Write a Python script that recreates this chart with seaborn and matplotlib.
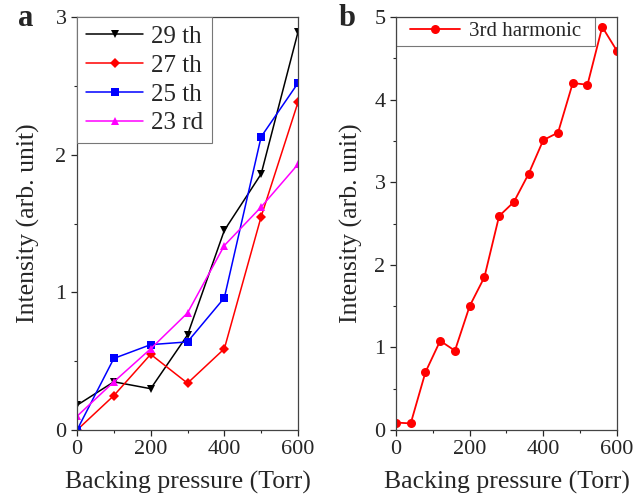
import numpy as np
import pandas as pd
import matplotlib.pyplot as plt
from matplotlib.ticker import MultipleLocator
import seaborn as sns

# Data
pressure_a = [0, 100, 200, 300, 400, 500, 600]
h29 = [0.18, 0.35, 0.30, 0.69, 1.45, 1.86, 2.89]
h27 = [0.00, 0.25, 0.55, 0.34, 0.59, 1.55, 2.38]
h25 = [0.00, 0.52, 0.62, 0.64, 0.96, 2.13, 2.52]
h23 = [0.10, 0.35, 0.59, 0.85, 1.34, 1.62, 1.93]
orders = ["29 th", "27 th", "25 th", "23 rd"]

pressure_b = [0, 40, 80, 120, 160, 200, 240, 280, 320, 360, 400, 440, 480, 520, 560, 600]
h3 = [0.09, 0.08, 0.70, 1.08, 0.96, 1.50, 1.85, 2.59, 2.76, 3.10,
      3.51, 3.60, 4.20, 4.18, 4.88, 4.59]

# Style
sns.set_style("ticks")
plt.rcParams["font.family"] = ["Liberation Serif", "DejaVu Serif"]
plt.rcParams["xtick.direction"] = "out"
plt.rcParams["ytick.direction"] = "out"

df_a = pd.DataFrame({
    "pressure": pressure_a * 4,
    "intensity": h29 + h27 + h25 + h23,
    "order": np.repeat(orders, len(pressure_a)),
})
df_b = pd.DataFrame({"pressure": pressure_b, "intensity": h3})

colors = {"29 th": "black", "27 th": "red", "25 th": "blue", "23 rd": "magenta"}
markers = {"29 th": "v", "27 th": "D", "25 th": "s", "23 rd": "^"}

fig = plt.figure(figsize=(6.44, 4.97), dpi=100)
ax1 = fig.add_axes([0.1196, 0.1348, 0.3431, 0.831])
ax2 = fig.add_axes([0.6149, 0.1348, 0.3431, 0.831])

# Panel a
sns.lineplot(
    data=df_a, x="pressure", y="intensity",
    hue="order", style="order", hue_order=orders, style_order=orders,
    palette=colors, markers=markers, dashes=False,
    linewidth=1.1, markersize=5.5, markeredgewidth=0,
    ax=ax1,
)
ax1.set_xlim(0, 600)
ax1.set_ylim(0, 3)
ax1.xaxis.set_major_locator(MultipleLocator(200))
ax1.xaxis.set_minor_locator(MultipleLocator(100))
ax1.yaxis.set_major_locator(MultipleLocator(1))
ax1.yaxis.set_minor_locator(MultipleLocator(0.5))
ax1.set_xlabel("Backing pressure (Torr)", fontsize=18.5, labelpad=8)
ax1.set_ylabel("Intensity (arb. unit)", fontsize=18.5, labelpad=11)
leg = ax1.legend(
    loc="upper left", fontsize=18, frameon=True, fancybox=False,
    edgecolor="#777777", framealpha=1, borderaxespad=0,
    handlelength=2.3, handletextpad=0.3, labelspacing=0.25,
    borderpad=0.35,
)
leg.get_frame().set_linewidth(0.8)

# Panel b
sns.lineplot(
    data=df_b, x="pressure", y="intensity",
    color="red", marker="o", linewidth=1.3, markersize=6.5,
    markeredgewidth=0, label="3rd harmonic", ax=ax2,
)
ax2.set_xlim(0, 600)
ax2.set_ylim(0, 5)
ax2.xaxis.set_major_locator(MultipleLocator(200))
ax2.xaxis.set_minor_locator(MultipleLocator(100))
ax2.yaxis.set_major_locator(MultipleLocator(1))
ax2.yaxis.set_minor_locator(MultipleLocator(0.5))
ax2.set_xlabel("Backing pressure (Torr)", fontsize=18.5, labelpad=8)
ax2.set_ylabel("Intensity (arb. unit)", fontsize=18.5, labelpad=8)
leg2 = ax2.legend(
    loc="upper left", bbox_to_anchor=(0.05, 0.997, 0.85, 0), mode="expand",
    fontsize=15, frameon=False, borderaxespad=0, handlelength=2.4,
    handletextpad=0.4, borderpad=0.15,
)
# legend frame spanning the width seen in the reference
frame_box = plt.Rectangle((0, 0.93), 0.9, 0.07, transform=ax2.transAxes,
                          fill=False, edgecolor="#777777", linewidth=0.8)
ax2.add_patch(frame_box)

for ax in (ax1, ax2):
    for side in ["top", "right", "left", "bottom"]:
        ax.spines[side].set_visible(True)
        ax.spines[side].set_linewidth(0.9)
        ax.spines[side].set_color("#444444")
    ax.tick_params(which="major", labelsize=16, length=4, width=0.9)
    ax.tick_params(which="minor", length=2.5, width=0.8)

fig.text(0.028, 0.948, "a", fontsize=22, fontweight="bold")
fig.text(0.525, 0.948, "b", fontsize=22, fontweight="bold")

fig.savefig("out.png", dpi=100)
